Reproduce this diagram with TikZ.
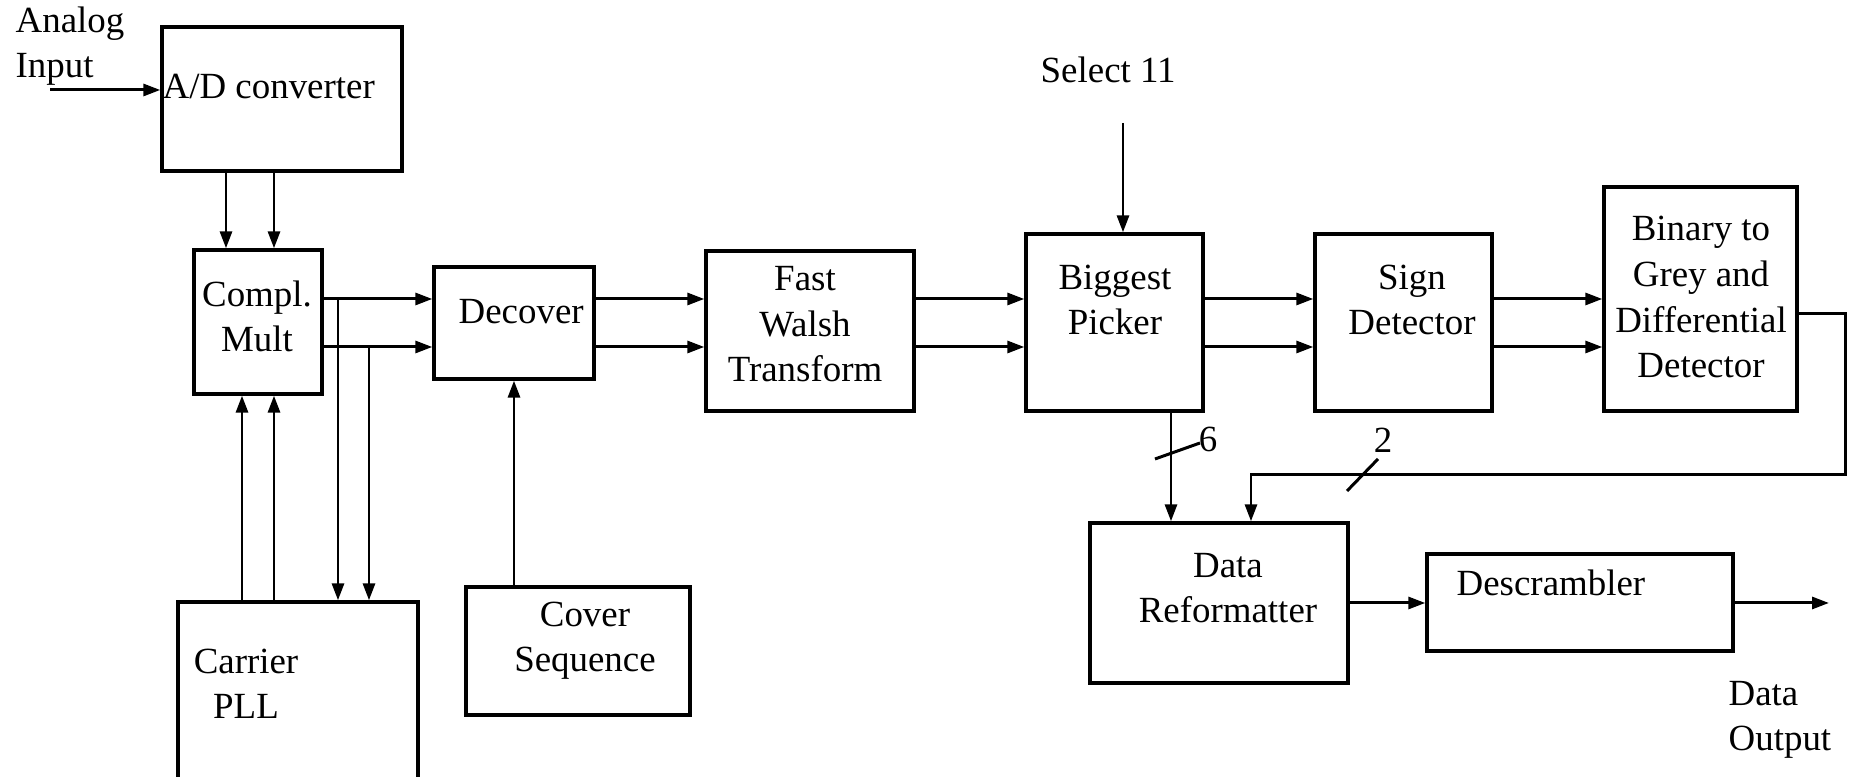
\documentclass[tikz,border=0pt]{standalone}
\usepackage{fontspec}
\setmainfont{Liberation Serif}
\usetikzlibrary{arrows.meta}

\begin{document}
\begin{tikzpicture}[
	block/.style={ draw, line width=0.95pt, inner sep=0pt },
	txt/.style={ inner sep=0pt, font=\fontsize{10.5}{13}\selectfont, align=center },
	arr/.style={ line width=0.85pt, -{Triangle[length=1.7mm,width=1.2mm]} },
	wire/.style={ line width=0.85pt }
]
\useasboundingbox (0,0) rectangle (18.49,7.77);

\node at (2.82,6.78) (ad) [block,minimum width=2.40cm,minimum height=1.44cm] {};
\node at (2.58,4.55) (mult) [block,minimum width=1.28cm,minimum height=1.44cm] {};
\node at (5.14,4.54) (decover) [block,minimum width=1.60cm,minimum height=1.12cm] {};
\node at (8.10,4.46) (fwt) [block,minimum width=2.08cm,minimum height=1.60cm] {};
\node at (11.145,4.545) (picker) [block,minimum width=1.77cm,minimum height=1.77cm] {};
\node at (14.035,4.545) (sign) [block,minimum width=1.77cm,minimum height=1.77cm] {};
\node at (17.005,4.78) (binary) [block,minimum width=1.93cm,minimum height=2.24cm] {};
\node at (12.19,1.74) (reform) [block,minimum width=2.58cm,minimum height=1.60cm] {};
\node at (15.80,1.745) (descr) [block,minimum width=3.06cm,minimum height=0.97cm] {};
\node at (2.98,0.80) (pll) [block,minimum width=2.40cm,minimum height=1.90cm] {};
\node at (5.78,1.26) (cover) [block,minimum width=2.24cm,minimum height=1.28cm] {};

\node at (1.62,6.78) (adt) [txt,anchor=base west] {A/D converter};
\node at (2.57,4.25) (multt) [txt,anchor=base] {Compl.\\Mult};
\node at (4.58,4.53) (decovert) [txt,anchor=base west] {Decover};
\node at (8.05,3.95) (fwtt) [txt,anchor=base] {Fast\\Walsh\\Transform};
\node at (11.15,4.42) (pickert) [txt,anchor=base] {Biggest\\Picker};
\node at (14.12,4.42) (signt) [txt,anchor=base] {Sign\\Detector};
\node at (17.01,3.99) (binaryt) [txt,anchor=base] {Binary to\\Grey and\\Differential\\Detector};
\node at (12.28,1.54) (reformt) [txt,anchor=base] {Data\\Reformatter};
\node at (14.56,1.81) (descrt) [txt,anchor=base west] {Descrambler};
\node at (2.46,0.58) (pllt) [txt,anchor=base] {Carrier\\PLL};
\node at (5.85,1.05) (covert) [txt,anchor=base] {Cover\\Sequence};
\node at (0.15,6.99) (aint) [txt,align=left,anchor=base west] {Analog\\Input};
\node at (10.40,6.94) (selt) [txt,anchor=base west] {Select 11};
\node at (17.28,0.26) (doutt) [txt,align=left,anchor=base west] {Data\\Output};
\node at (12.08,3.38) (six) [txt] {6};
\node at (13.83,3.37) (two) [txt] {2};

\coordinate (up) at (0,4.78);
\coordinate (lo) at (0,4.30);
\coordinate (ain) at (0.50,6.87);
\coordinate (sel) at (11.23,6.54);
\coordinate (dout) at (18.29,1.74);

\draw[arr] (ain) -- (ad.west |- ain);
\draw[arr] (ad.south -| 2.26,0) -- (mult.north -| 2.26,0);
\draw[arr] (ad.south -| 2.74,0) -- (mult.north -| 2.74,0);
\draw[arr] (pll.north -| 2.42,0) -- (mult.south -| 2.42,0);
\draw[arr] (pll.north -| 2.74,0) -- (mult.south -| 2.74,0);
\draw[arr] (up -| 3.38,0) -- (pll.north -| 3.38,0);
\draw[arr] (lo -| 3.69,0) -- (pll.north -| 3.69,0);
\draw[arr] (cover.north -| decover) -- (decover.south);

\draw[arr] (mult.east |- up) -- (decover.west |- up);
\draw[arr] (mult.east |- lo) -- (decover.west |- lo);
\draw[arr] (decover.east |- up) -- (fwt.west |- up);
\draw[arr] (decover.east |- lo) -- (fwt.west |- lo);
\draw[arr] (fwt.east |- up) -- (picker.west |- up);
\draw[arr] (fwt.east |- lo) -- (picker.west |- lo);
\draw[arr] (picker.east |- up) -- (sign.west |- up);
\draw[arr] (picker.east |- lo) -- (sign.west |- lo);
\draw[arr] (sign.east |- up) -- (binary.west |- up);
\draw[arr] (sign.east |- lo) -- (binary.west |- lo);

\draw[arr] (sel) -- (picker.north -| sel);
\draw[arr] (picker.south -| 11.71,0) -- (reform.north -| 11.71,0);
\draw[arr] (binary.east |- 0,4.63) -| (18.45,3.02) -| (reform.north -| 12.51,0);
\draw[wire] (11.55,3.18) -- (12.00,3.34);
\draw[wire] (13.47,2.86) -- (13.78,3.18);

\draw[arr] (reform.east) -- (descr.west |- reform.east);
\draw[arr] (descr.east |- dout) -- (dout);

\end{tikzpicture}
\end{document}
